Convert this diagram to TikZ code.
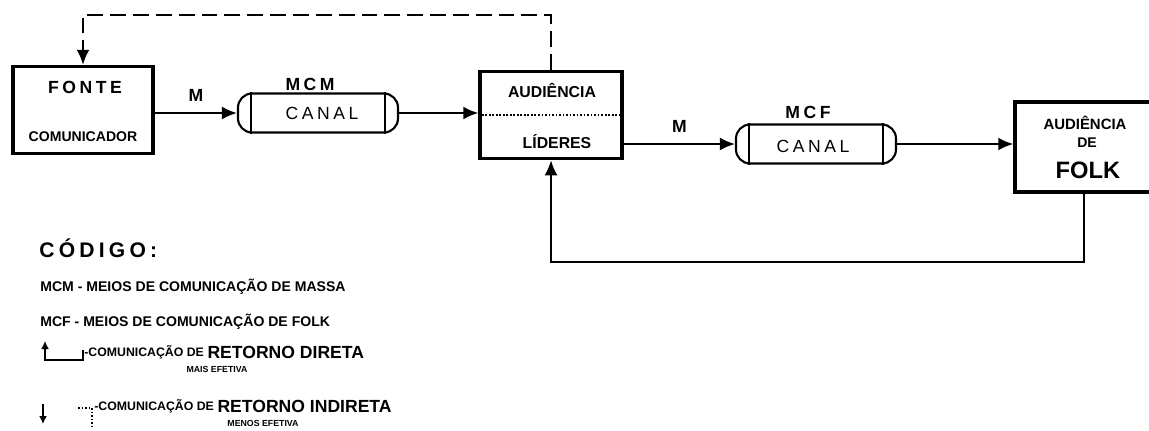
\documentclass[tikz,border=0pt]{standalone}
\usepackage{fontspec}
\setmainfont{Liberation Sans}
\newfontfamily\largo[LetterSpace=20]{Liberation Sans}
\usetikzlibrary{positioning,arrows.meta}

\tikzset{
  caixa/.style={draw, line width=2pt, minimum width=2.8cm, minimum height=1.74cm},
  canal/.style={draw, line width=1.2pt, rounded corners=8pt, minimum width=3.2cm, minimum height=0.78cm},
  fluxo/.style={line width=1.2pt, -{Latex[length=3mm,width=2.6mm]}},
}

\begin{document}
\begin{tikzpicture}[x=0.02cm, y=-0.02cm]
\useasboundingbox (0,0) rectangle (1149,430);

% Fonte
\node[caixa] (fonte) at (83,110) {};
\node[font=\largo\fontsize{10}{12}\selectfont\bfseries] (fonteA) at (85,87) {FONTE};
\node[font=\fontsize{8}{10}\selectfont\bfseries] (fonteB) at (83,137) {COMUNICADOR};

% Canal MCM
\node[canal] (mcm) at (318,113) {};
\draw[line width=1.2pt] ([xshift=8pt]mcm.north west) -- ([xshift=8pt]mcm.south west);
\draw[line width=1.2pt] ([xshift=-8pt]mcm.north east) -- ([xshift=-8pt]mcm.south east);
\node[font=\largo\fontsize{10}{12}\selectfont] (mcmA) at (322,113) {CANAL};
\node[font=\largo\fontsize{10}{12}\selectfont\bfseries] (mcmB) at (310,84) {MCM};

% Audiencia / lideres
\node[caixa, minimum width=2.84cm] (lider) at (551,115) {};
\draw[densely dotted, line width=1pt] (lider.west) -- (lider.east);
\node[font=\fontsize{9}{11}\selectfont\bfseries] (liderA) at (552,90) {AUDIÊNCIA};
\node[font=\fontsize{9}{11}\selectfont\bfseries] (liderB) at (557,142) {LÍDERES};

% Canal MCF
\node[canal] (mcf) at (816,144) {};
\draw[line width=1.2pt] ([xshift=8pt]mcf.north west) -- ([xshift=8pt]mcf.south west);
\draw[line width=1.2pt] ([xshift=-8pt]mcf.north east) -- ([xshift=-8pt]mcf.south east);
\node[font=\largo\fontsize{10}{12}\selectfont] (mcfA) at (813,146) {CANAL};
\node[font=\largo\fontsize{10}{12}\selectfont\bfseries] (mcfB) at (808,112) {MCF};

% Audiencia de folk
\node[caixa, minimum width=3cm, minimum height=1.8cm] (folk) at (1090,147) {};
\node[font=\fontsize{8.5}{10}\selectfont\bfseries] (folkA) at (1085,123) {AUDIÊNCIA};
\node[font=\fontsize{8}{10}\selectfont\bfseries] (folkB) at (1087,143) {DE};
\node[font=\fontsize{13.5}{15}\selectfont\bfseries] (folkC) at (1088,170) {FOLK};

% Fluxo das mensagens
\draw[fluxo] (fonte.east |- mcm.west) -- (mcm.west) node[midway, above=1mm, font=\fontsize{10}{12}\selectfont\bfseries] {M};
\draw[fluxo] (mcm.east) -- (mcm.east -| lider.west);
\draw[fluxo] (lider.east |- mcf.west) -- (mcf.west) node[midway, above=1mm, font=\fontsize{10}{12}\selectfont\bfseries] {M};
\draw[fluxo] (mcf.east) -- (mcf.east -| folk.west);

% Retornos
\coordinate (topo) at (300,15);
\draw[fluxo, dash pattern=on 9pt off 4pt] (lider.north) |- (topo) -| (fonte.north);
\coordinate (base) at (1084,262);
\draw[fluxo] (base |- folk.south) -- (base) -| (lider.south);

% Codigo
\node[anchor=west, font=\largo\fontsize{12}{14}\selectfont\bfseries, inner sep=0pt] (cod) at (39,248) {CÓDIGO:};
\node[anchor=west, font=\fontsize{8}{10}\selectfont\bfseries, inner sep=0pt] (cod1) at (40,287) {MCM - MEIOS DE COMUNICAÇÃO DE MASSA};
\node[anchor=west, font=\fontsize{8}{10}\selectfont\bfseries, inner sep=0pt] (cod2) at (40,322) {MCF - MEIOS DE COMUNICAÇÃO DE FOLK};

% retorno direto
\draw[line width=1pt, -{Latex[length=1.6mm,width=1.6mm]}] (83,350) |- (45,360) -- (45,341);
\node[anchor=west, font=\fontsize{7}{9}\selectfont\bfseries, inner sep=0pt] (cod3) at (84,352) {-COMUNICAÇÃO DE};
\node[anchor=west, font=\fontsize{10}{12}\selectfont\bfseries, inner sep=0pt] (cod3b) at (cod3.east) {\,RETORNO DIRETA};
\node[font=\fontsize{5}{6}\selectfont\bfseries, inner sep=0pt] (cod3c) at (217,369) {MAIS EFETIVA};

% retorno indireto
\draw[line width=1pt, -{Latex[length=1.6mm,width=1.6mm]}] (43,404) -- (43,424);
\draw[line width=1pt, densely dotted] (78,408) -- (92,408) -- (92,427);
\node[anchor=west, font=\fontsize{7}{9}\selectfont\bfseries, inner sep=0pt] (cod4) at (94,406) {-COMUNICAÇÃO DE};
\node[anchor=west, font=\fontsize{10}{12}\selectfont\bfseries, inner sep=0pt] (cod4b) at (cod4.east) {\,RETORNO INDIRETA};
\node[font=\fontsize{5}{6}\selectfont\bfseries, inner sep=0pt] (cod4c) at (263,423) {MENOS EFETIVA};
\end{tikzpicture}
\end{document}
